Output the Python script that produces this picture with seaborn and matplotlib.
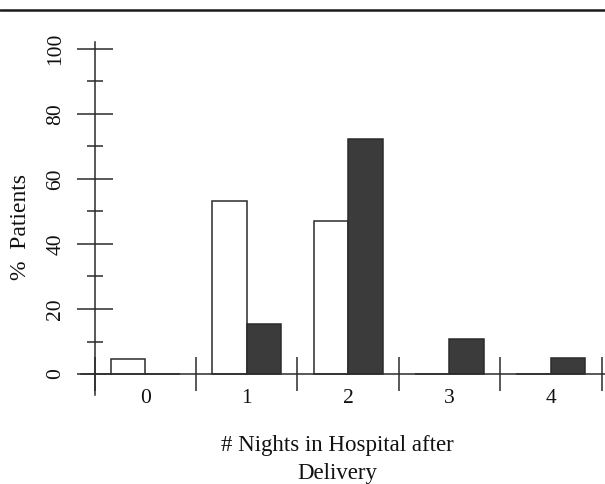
import matplotlib
matplotlib.use("Agg")
import matplotlib.pyplot as plt
from matplotlib.lines import Line2D
from matplotlib.ticker import FixedLocator
import pandas as pd
import seaborn as sns

# values
nights = ["0", "1", "2", "3", "4"]
group_white = [4.6, 53.3, 47.2, 0.0, 0.0]
group_dark = [0.0, 15.3, 72.2, 10.9, 4.8]
group_names = ["white", "dark"]
y_ticks = [0, 20, 40, 60, 80, 100]
y_minor = [10, 30, 50, 70, 90]

df = pd.DataFrame({
    "nights": nights * 2,
    "pct": group_white + group_dark,
    "group": [group_names[0]] * len(nights) + [group_names[1]] * len(nights),
})

sns.set_theme(style="white")
plt.rcParams["font.family"] = ["Liberation Serif", "DejaVu Serif"]

line_col = "#2b2b2b"
text_col = "#111111"

fig = plt.figure(figsize=(6.05, 4.84), dpi=100)
ax = fig.add_axes([81 / 605, 89 / 484, 524 / 605, 353 / 484])

sns.barplot(data=df, x="nights", y="pct", hue="group", order=nights,
            hue_order=group_names, palette=["white", "#3b3b3b"],
            width=0.68, edgecolor=line_col, linewidth=1.1,
            legend=False, ax=ax)

ax.set_xlim(-0.634, 4.534)
ax.set_ylim(-6.46, 102.15)

for side in ["top", "right"]:
    ax.spines[side].set_visible(False)
ax.spines["left"].set_position(("data", -0.5))
ax.spines["bottom"].set_position(("data", 0))
for side in ["left", "bottom"]:
    ax.spines[side].set_color(line_col)
    ax.spines[side].set_linewidth(1.1)

# y axis: labelled ticks every 20, short ticks between
ax.set_yticks(y_ticks)
ax.set_yticklabels([str(v) for v in y_ticks], rotation=90, va="center")
ax.yaxis.set_minor_locator(FixedLocator(y_minor))
ax.tick_params(axis="y", which="major", direction="inout", length=26, width=1.1,
               color=line_col, labelsize=15.5, pad=8, left=True)
ax.tick_params(axis="y", which="minor", direction="inout", length=11, width=1.1,
               color=line_col, left=True)

# x axis: category labels without marks, marks between categories
ax.set_xticks(range(len(nights)))
ax.set_xticklabels(nights)
ax.xaxis.set_minor_locator(FixedLocator([i - 0.5 for i in range(len(nights) + 1)]))
ax.tick_params(axis="x", which="major", length=0, labelsize=15.5, pad=11)
ax.tick_params(axis="x", which="minor", direction="inout", length=25, width=1.1,
               color=line_col, bottom=True)

ax.set_xlabel("# Nights in Hospital after\nDelivery", fontsize=16.5, color=text_col,
              linespacing=1.45)
ax.xaxis.set_label_coords(0.4885, -0.114)
ax.set_ylabel("%  Patients", fontsize=17, color=text_col)
ax.yaxis.set_label_coords(-0.095, 0.477)

for lbl in ax.get_xticklabels() + ax.get_yticklabels():
    lbl.set_color(text_col)

# rule across the top of the scanned page
fig.add_artist(Line2D([0, 1], [1 - 10 / 484, 1 - 10 / 484], transform=fig.transFigure,
                      color="#1a1a1a", linewidth=1.8))

fig.savefig("out.png", dpi=100, facecolor="white")
